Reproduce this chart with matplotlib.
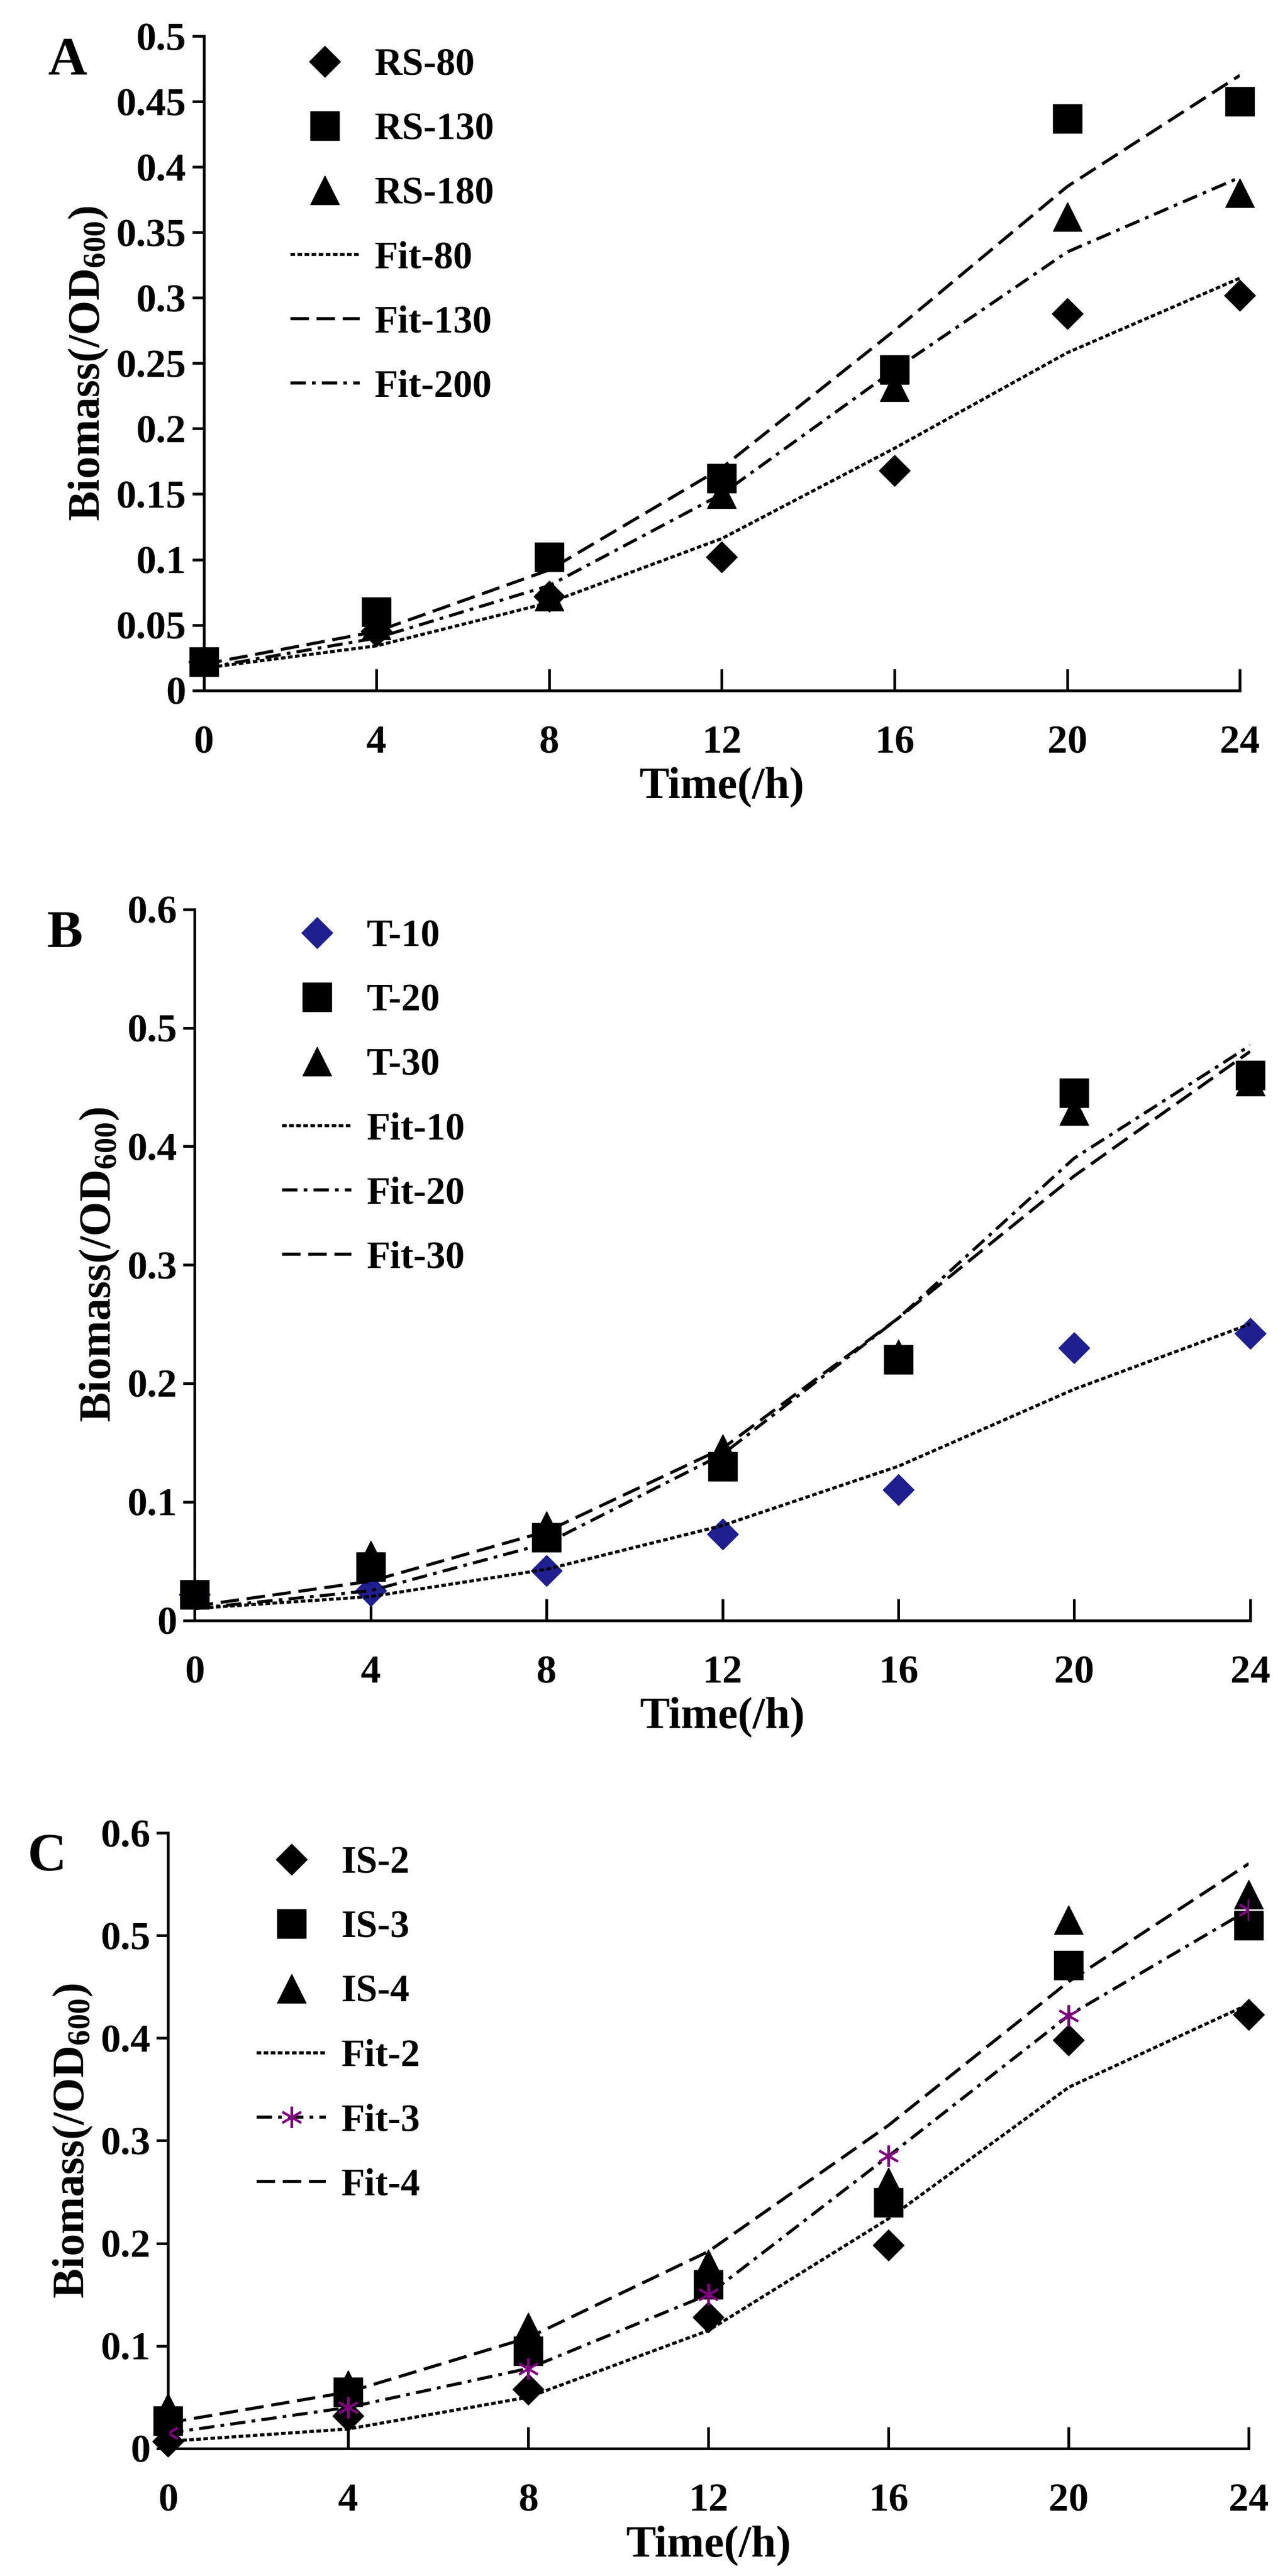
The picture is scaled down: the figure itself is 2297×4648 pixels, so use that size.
import matplotlib
matplotlib.use('Agg')
import matplotlib.pyplot as plt

plt.rcParams['font.family'] = 'Liberation Serif'
plt.rcParams['font.weight'] = 'bold'
plt.rcParams['mathtext.fontset'] = 'custom'
plt.rcParams['mathtext.bf'] = 'Liberation Serif:bold'
plt.rcParams['mathtext.default'] = 'bf'

t = [0, 4, 8, 12, 16, 20, 24]

# panel A
rs80 = [0.022, 0.045, 0.072, 0.102, 0.168, 0.288, 0.302]
rs130 = [0.022, 0.060, 0.102, 0.162, 0.245, 0.437, 0.450]
rs180 = [0.022, 0.050, 0.072, 0.150, 0.232, 0.362, 0.380]
fit80 = [0.017, 0.034, 0.067, 0.116, 0.185, 0.258, 0.315]
fit130 = [0.020, 0.045, 0.092, 0.170, 0.275, 0.385, 0.470]
fit200 = [0.017, 0.040, 0.080, 0.150, 0.245, 0.335, 0.392]

# panel B
t10 = [0.022, 0.025, 0.042, 0.073, 0.110, 0.230, 0.242]
t20 = [0.022, 0.045, 0.070, 0.130, 0.220, 0.445, 0.460]
t30 = [0.022, 0.055, 0.080, 0.145, 0.225, 0.430, 0.455]
fit10 = [0.010, 0.020, 0.043, 0.080, 0.130, 0.195, 0.250]
fit20 = [0.010, 0.025, 0.065, 0.140, 0.255, 0.390, 0.485]
fit30 = [0.012, 0.033, 0.075, 0.145, 0.255, 0.375, 0.480]

# panel C
is2 = [0.007, 0.032, 0.058, 0.128, 0.198, 0.398, 0.423]
is3 = [0.027, 0.055, 0.095, 0.160, 0.240, 0.471, 0.510]
is4 = [0.040, 0.062, 0.118, 0.180, 0.260, 0.515, 0.540]
fit2 = [0.007, 0.019, 0.050, 0.115, 0.224, 0.352, 0.433]
fit3 = [0.015, 0.040, 0.078, 0.150, 0.285, 0.422, 0.525]
fit4 = [0.025, 0.055, 0.108, 0.192, 0.315, 0.455, 0.570]

fig = plt.figure(figsize=(22.97, 46.48), dpi=100)

dot = (0, (1.5, 0.8))
dash = (0, (6, 2.5))
dashdot = (0, (5, 2, 1.2, 2))
ms = 38
lw = 4


def style(ax, ymax, ystep, yfmt, letter, lx):
    ax.set_xlim(0, 24)
    ax.set_ylim(0, ymax)
    ax.set_xticks(t)
    n = int(round(ymax / ystep))
    yt = [i * ystep for i in range(n + 1)]
    ax.set_yticks(yt)
    ax.set_yticklabels(['0'] + [yfmt(v) for v in yt[1:]])
    for s in ['top', 'right']:
        ax.spines[s].set_visible(False)
    for s in ['left', 'bottom']:
        ax.spines[s].set_linewidth(3.5)
    ax.tick_params(axis='x', direction='in', length=28, width=3.5, pad=45, labelsize=52)
    ax.tick_params(axis='y', direction='out', length=15, width=3.5, pad=8, labelsize=52)
    ax.set_xlabel('Time(/h)', fontsize=58, fontweight='bold', labelpad=8)
    ax.set_ylabel(r'Biomass(/OD$_{600}$)', fontsize=58, fontweight='bold', labelpad=8)
    ax.text(lx, 1.0, letter, transform=ax.transAxes, fontsize=70, fontweight='bold',
            ha='left', va='top')
    ax.legend(loc='upper left', bbox_to_anchor=(0.05, 1.035), frameon=False, fontsize=50,
              labelspacing=0.75, handlelength=1.8, handletextpad=0.4)


def fmt2(v):
    return ('%.2f' % v).rstrip('0').rstrip('.')


def fmt1(v):
    return '%.1f' % v


axA = fig.add_axes([0.160, 0.732, 0.814, 0.254])
axA.plot(t, rs80, 'kD', ms=ms * 0.75, ls='none', label='RS-80', clip_on=False)
axA.plot(t, rs130, 'ks', ms=ms, ls='none', label='RS-130', clip_on=False)
axA.plot(t, rs180, 'k^', ms=ms, ls='none', label='RS-180', clip_on=False)
axA.plot(t, fit80, 'k', ls=dot, lw=lw, label='Fit-80')
axA.plot(t, fit130, 'k', ls=dash, lw=lw, label='Fit-130')
axA.plot(t, fit200, 'k', ls=dashdot, lw=lw, label='Fit-200')
style(axA, 0.5, 0.05, fmt2, 'A', -0.15)

axB = fig.add_axes([0.153, 0.371, 0.829, 0.276])
axB.plot(t, t10, 'D', color='#1f1f8f', ms=ms * 0.75, ls='none', label='T-10', clip_on=False)
axB.plot(t, t20, 'ks', ms=ms, ls='none', label='T-20', clip_on=False)
axB.plot(t, t30, 'k^', ms=ms, ls='none', label='T-30', clip_on=False)
axB.plot(t, fit10, 'k', ls=dot, lw=lw, label='Fit-10')
axB.plot(t, fit20, 'k', ls=dashdot, lw=lw, label='Fit-20')
axB.plot(t, fit30, 'k', ls=dash, lw=lw, label='Fit-30')
style(axB, 0.6, 0.1, fmt1, 'B', -0.14)

axC = fig.add_axes([0.132, 0.0495, 0.849, 0.239])
axC.plot(t, is2, 'kD', ms=ms * 0.75, ls='none', label='IS-2', clip_on=False)
axC.plot(t, is3, 'ks', ms=ms, ls='none', label='IS-3', clip_on=False)
axC.plot(t, is4, 'k^', ms=ms, ls='none', label='IS-4', clip_on=False)
axC.plot(t, fit2, 'k', ls=dot, lw=lw, label='Fit-2')
axC.plot(t, fit3, color='k', ls=dashdot, lw=lw, marker=(6, 2, 0), ms=28, mew=3,
         mfc='#800080', mec='#800080', label='Fit-3')
axC.plot(t, fit4, 'k', ls=dash, lw=lw, label='Fit-4')
style(axC, 0.6, 0.1, fmt1, 'C', -0.13)

fig.savefig('out.png', dpi=100)
